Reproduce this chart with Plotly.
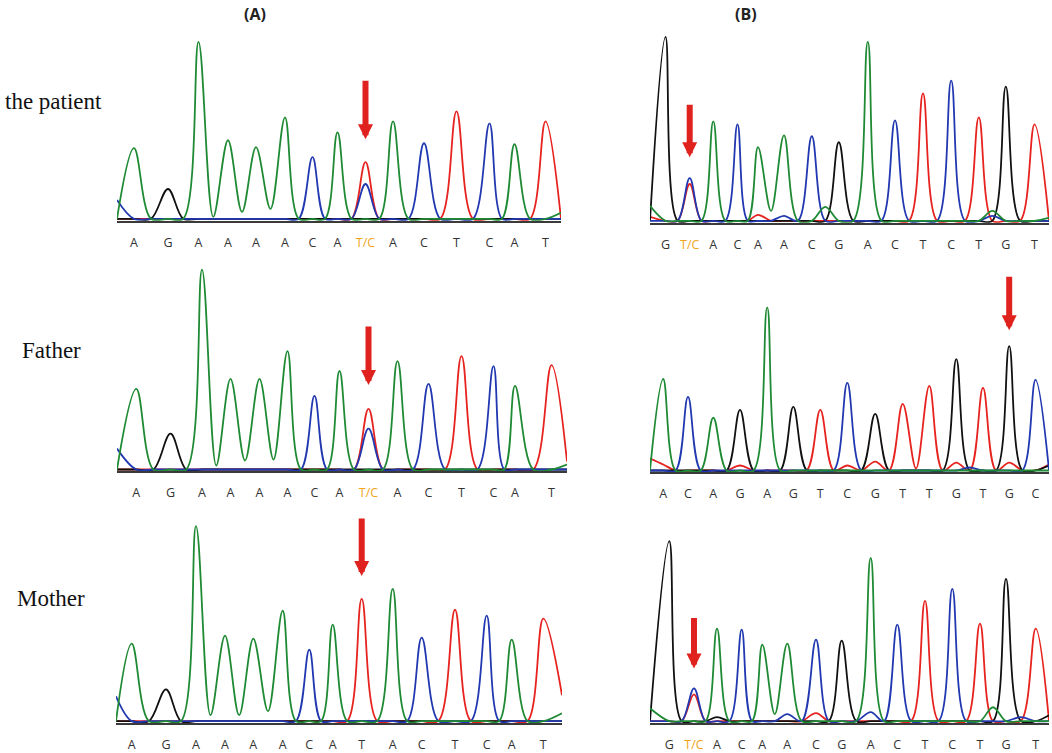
import plotly.graph_objects as go

W, H = 1052, 753

COLORS = {"A": "#1f8a34", "C": "#2138b0", "G": "#111111", "T": "#e6231f"}
VARIANT = "#f2a51a"
ARROW = "#e0221e"

# ---- (A) column: same site, patient / father / mother ----
A1_labels = ["A", "G", "A", "A", "A", "A", "C", "A", "T/C", "A", "C", "T", "C", "A", "T"]
A1_calls = "AGAAAACATACTCAT"
A1_heights = [71, 30, 178, 79, 72, 102, 62, 87, 57, 98, 76, 108, 96, 75, 98]
A1_locs = [17, 51, 81.5, 111, 139, 168, 195.5, 220.5, 248.5, 276, 307, 339.5, 372.5, 397.5, 428.5]
A1_second = {("C", 8): 35}
A1_troughs = {("A", 2): 2, ("A", 3): 7, ("A", 4): 10}
A1_edges = {"C": (19, 0), "A": (0, 6)}

A2_labels = ["A", "G", "A", "A", "A", "A", "C", "A", "T/C", "A", "C", "T", "C", "A", "T"]
A2_calls = "AGAAAACATACTCAT"
A2_heights = [81, 36, 201, 91, 91, 119, 74, 99, 61, 109, 86, 114, 104, 84, 105]
A2_locs = [19.3, 53.5, 85, 113.5, 142.5, 170.5, 197.5, 222.5, 251.5, 280.5, 311.5, 344.5, 376.5, 398, 434.5]
A2_second = {("C", 8): 41}
A2_troughs = {("A", 2): 4, ("A", 3): 9, ("A", 4): 10}
A2_edges = {"C": (21, 0), "T": (0, 8), "A": (0, 5)}

A3_labels = ["A", "G", "A", "A", "A", "A", "C", "A", "T", "A", "C", "T", "C", "A", "T"]
A3_calls = "AGAAAACATACTCAT"
A3_heights = [78, 32, 196, 86, 83, 111, 72, 97, 123, 133, 84, 112, 106, 82, 103]
A3_locs = [15.7, 50, 80, 109, 137.3, 166.7, 193.3, 216.7, 245.7, 276.7, 305.7, 339, 370.7, 395.7, 427.3]
A3_second = {}
A3_troughs = {("A", 2): 6, ("A", 3): 6, ("A", 4): 10}
A3_edges = {"C": (25, 0), "T": (0, 26), "A": (0, 8)}

# ---- (B) column ----
B1_labels = ["G", "T/C", "A", "C", "A", "A", "C", "G", "A", "C", "T", "C", "T", "G", "T"]
B1_calls = "GCACAACGACTCTGT"
B1_heights = [185, 43, 100, 97, 74, 86, 85, 79, 180, 101, 128, 141, 104, 135, 97]
B1_locs = [15.5, 39.7, 63.3, 87.5, 108, 134, 161.8, 188.8, 217.8, 245, 273, 301.2, 328.8, 355.8, 384.5]
B1_second = {("T", 1): 37, ("T", 4): 6, ("C", 5): 5}
B1_troughs = {("A", 4): 10, ("A", 6): 14, ("A", 12): 10, ("C", 12): 5}
B1_edges = {"A": (15, 3), "T": (4, 0)}

B2_labels = ["A", "C", "A", "G", "A", "G", "T", "C", "G", "T", "T", "G", "T", "G", "C"]
B2_calls = "ACAGAGTCGTTGTGC"
B2_heights = [92, 74, 53, 61, 164, 64, 61, 88, 57, 67, 85, 112, 83, 125, 91]
B2_locs = [13.2, 38, 63.3, 90, 117.2, 143.3, 170.3, 197.3, 225.2, 252.7, 279.3, 306.3, 333, 359.2, 385.5]
B2_second = {("T", 0): 6, ("T", 3): 5, ("T", 7): 5, ("T", 8): 9, ("T", 11): 8, ("T", 13): 8}
B2_troughs = {("T", 9): 2, ("C", 11): 3}
B2_edges = {"T": (12, 6), "G": (0, 5)}

B3_labels = ["G", "T/C", "A", "C", "A", "A", "C", "G", "A", "C", "T", "C", "T", "G", "T"]
B3_calls = "GCACAACGACTCTGT"
B3_heights = [181, 33, 93, 92, 77, 78, 82, 81, 164, 97, 121, 133, 98, 143, 93]
B3_locs = [19.3, 44, 67, 91.7, 112.3, 137.3, 166, 191.7, 220.7, 247.3, 275, 302.3, 330, 356, 385.7]
B3_second = {("T", 1): 27, ("C", 5): 7, ("T", 6): 8, ("C", 8): 9, ("G", 2): 4}
B3_troughs = {("A", 4): 7, ("A", 12): 14, ("C", 13): 4}
B3_edges = {"A": (13, 0), "G": (0, 6)}

panels = [
    # data, x0 px, x1 px, axis line px, variant call index, arrow tip / length in px
    dict(labels=A1_labels, calls=A1_calls, h=A1_heights, locs=A1_locs, sec=A1_second,
         tr=A1_troughs, edges=A1_edges, x0=117, x1=561, axis=222, var=8, tip=80, alen=60),
    dict(labels=B1_labels, calls=B1_calls, h=B1_heights, locs=B1_locs, sec=B1_second,
         tr=B1_troughs, edges=B1_edges, x0=650, x1=1049, axis=224, var=1, tip=64, alen=54),
    dict(labels=A2_labels, calls=A2_calls, h=A2_heights, locs=A2_locs, sec=A2_second,
         tr=A2_troughs, edges=A2_edges, x0=117, x1=567, axis=474, var=8, tip=85, alen=60),
    dict(labels=B2_labels, calls=B2_calls, h=B2_heights, locs=B2_locs, sec=B2_second,
         tr=B2_troughs, edges=B2_edges, x0=650, x1=1049, axis=475, var=13, tip=141, alen=55),
    dict(labels=A3_labels, calls=A3_calls, h=A3_heights, locs=A3_locs, sec=A3_second,
         tr=A3_troughs, edges=A3_edges, x0=116, x1=562, axis=727, var=8, tip=146, alen=59),
    dict(labels=B3_labels, calls=B3_calls, h=B3_heights, locs=B3_locs, sec=B3_second,
         tr=B3_troughs, edges=B3_edges, x0=650, x1=1049, axis=727, var=1, tip=53, alen=52),
]


def channel(p, ch):
    """points for one dye channel: value at every call and at the gap between calls"""
    lead, tail = p["edges"].get(ch, (0, 0))
    xs, ys = [0], [lead]
    locs = p["locs"]
    for i, loc in enumerate(locs):
        v = p["h"][i] if p["calls"][i] == ch else p["sec"].get((ch, i), 0)
        xs.append(loc)
        ys.append(v)
        if i < len(locs) - 1:
            xs.append((loc + locs[i + 1]) / 2)
            ys.append(p["tr"].get((ch, i), 0))
    xs.append(p["x1"] - p["x0"])
    ys.append(tail)
    return xs, ys


fig = go.Figure()
YMIN, YMAX = -2, 205

for k, p in enumerate(panels, start=1):
    xa = "x" if k == 1 else f"x{k}"
    ya = "y" if k == 1 else f"y{k}"
    for ch in ["T", "G", "C", "A"]:
        xs, ys = channel(p, ch)
        fig.add_trace(go.Scatter(x=xs, y=ys, mode="lines", xaxis=xa, yaxis=ya,
                                 line=dict(color=COLORS[ch], width=1.8, shape="spline", smoothing=1),
                                 hoverinfo="skip", showlegend=False))

    ticktext = [f"<span style='color:{VARIANT}'>{t}</span>" if "/" in t else t for t in p["labels"]]
    span = YMAX - YMIN
    fig.layout[f"xaxis{k}"] = dict(
        domain=[p["x0"] / W, p["x1"] / W], range=[0, p["x1"] - p["x0"]], anchor=ya,
        showline=True, linecolor="#3a3a3a", linewidth=2, showgrid=False, zeroline=False,
        tickvals=p["locs"], ticktext=ticktext, ticks="", ticklabelstandoff=9,
        tickfont=dict(family="Open Sans", size=12.5, color="#333333"), fixedrange=True)
    fig.layout[f"yaxis{k}"] = dict(
        domain=[1 - p["axis"] / H, 1 - (p["axis"] - span) / H], range=[YMIN, YMAX],
        anchor=xa, visible=False, fixedrange=True)

    fig.add_annotation(xref=xa, yref=ya, x=p["locs"][p["var"]], y=p["tip"], ax=0, ay=-p["alen"],
                       text="", showarrow=True, arrowhead=2, arrowsize=0.5, arrowwidth=6,
                       arrowcolor=ARROW, standoff=0)

row_labels = [("the patient", 3, 102), ("Father", 20, 352), ("Mother", 15, 602)]
for txt, px, py in row_labels:
    fig.add_annotation(xref="paper", yref="paper", x=px / W, y=1 - py / H, text=txt,
                       showarrow=False, xanchor="left", yanchor="middle",
                       font=dict(family="Liberation Serif", size=23, color="#111111"))

for txt, px in [("(A)", 255), ("(B)", 746)]:
    fig.add_annotation(xref="paper", yref="paper", x=px / W, y=1 - 14 / H, text=f"<b>{txt}</b>",
                       showarrow=False, xanchor="center", yanchor="middle",
                       font=dict(family="Open Sans", size=16, color="#222222"))

fig.update_layout(width=W, height=H, margin=dict(l=0, r=0, t=0, b=0),
                  paper_bgcolor="white", plot_bgcolor="white")

fig.write_html("out.html", config={"displayModeBar": False},
               post_script="document.body.style.margin='0';")
